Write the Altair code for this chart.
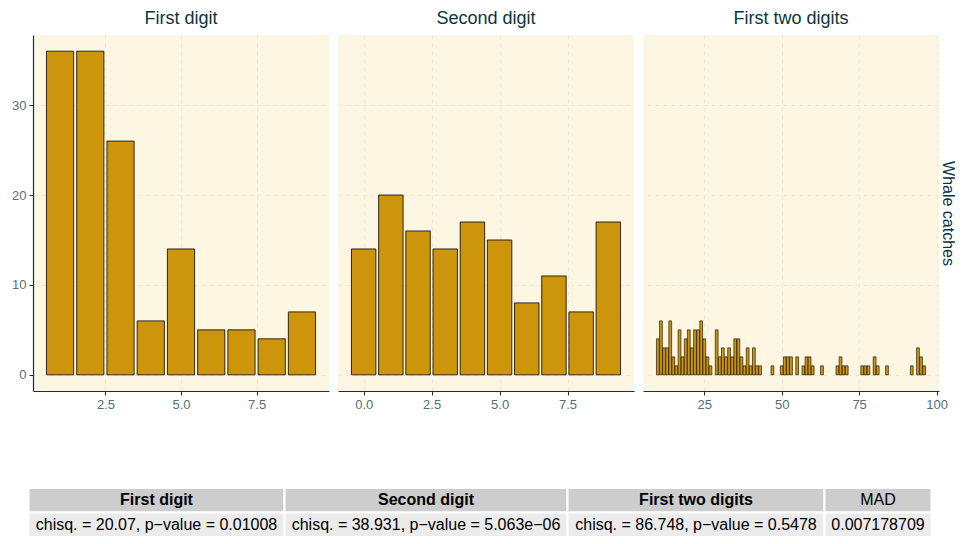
import altair as alt
import pandas as pd

# ---------------- data ----------------
first_digit = [1, 2, 3, 4, 5, 6, 7, 8, 9]
first_counts = [36, 36, 26, 6, 14, 5, 5, 4, 7]

second_digit = [0, 1, 2, 3, 4, 5, 6, 7, 8, 9]
second_counts = [14, 20, 16, 14, 17, 15, 8, 11, 7, 17]

two_digits = [10, 11, 12, 13, 14, 15, 16, 17, 18, 19, 20, 21, 22, 23, 24, 25, 26, 27,
              29, 30, 31, 32, 33, 34, 35, 36, 37, 38, 39, 40, 41, 42, 43,
              47, 50, 51, 52, 53, 55, 57, 58, 59, 60, 63, 68, 69, 70, 71,
              76, 77, 78, 80, 81, 84, 92, 94, 95, 96]
two_counts = [4, 6, 3, 3, 6, 2, 1, 5, 2, 4, 5, 3, 5, 5, 6, 4, 2, 1,
              5, 2, 3, 2, 3, 2, 4, 4, 2, 1, 3, 1, 3, 1, 1,
              1, 1, 2, 2, 2, 2, 1, 2, 2, 1, 1, 1, 2, 1, 1,
              1, 1, 1, 2, 1, 1, 1, 3, 2, 1]

panel_titles = ["First digit", "Second digit", "First two digits"]
y_title = "Whale catches"

table_headers = ["First digit", "Second digit", "First two digits", "MAD"]
table_values = ["chisq. = 20.07, p\u2212value = 0.01008",
                "chisq. = 38.931, p\u2212value = 5.063e\u221206",
                "chisq. = 86.748, p\u2212value = 0.5478",
                "0.007178709"]

# ---------------- style ----------------
FONT = "Liberation Sans"
BAR = "#CD950C"
PANEL_BG = "#FDF6E3"
GRID = "#EEE8D5"
DARK = "#073642"
LABEL = "#586E75"
PW, PH = 296, 356
BAR_HALF = 0.45
LABEL_SIZE = 13
header_weights = ["bold", "bold", "bold", "normal"]

ymax = max(first_counts + second_counts + two_counts)
ydom = [-0.05 * ymax, ymax * 1.05]


def xdomain(vals):
    lo, hi = min(vals) - BAR_HALF, max(vals) + BAR_HALF
    pad = 0.05 * (hi - lo)
    return [lo - pad, hi + pad]


grid_kw = dict(grid=True, gridColor=GRID, gridDash=[4, 4], gridWidth=1)


def panel(digits, counts, title, ticks, fmt, which):
    df = pd.DataFrame({"digit": digits, "count": counts})
    if which == 0:
        yaxis = alt.Axis(values=[0, 10, 20, 30], title=None, domain=True, domainColor=DARK,
                         domainWidth=1.2, tickColor=DARK, tickSize=4, labelColor=LABEL,
                         labelFont=FONT, labelFontSize=LABEL_SIZE, labelPadding=3, **grid_kw)
    elif which == 1:
        yaxis = alt.Axis(values=[0, 10, 20, 30], title=None, domain=False, ticks=False,
                         labels=False, **grid_kw)
    else:
        yaxis = alt.Axis(values=[0, 10, 20, 30], title=y_title, orient="right", domain=False,
                         ticks=False, labels=False, titleAngle=90, titleFont=FONT,
                         titleFontSize=16, titleFontWeight="normal", titleColor=DARK,
                         titlePadding=0, **grid_kw)
    return alt.Chart(df, title=alt.TitleParams(
        title, font=FONT, fontSize=18, fontWeight="normal", color=DARK,
        anchor="middle", offset=7)).transform_calculate(
        x0=f"datum.digit - {BAR_HALF}", x1=f"datum.digit + {BAR_HALF}", zero="0"
    ).mark_bar(fill=BAR, stroke="black", strokeWidth=0.8 if which < 2 else 0.6).encode(
        x=alt.X("x0:Q", scale=alt.Scale(domain=xdomain(digits), nice=False, zero=False),
                axis=alt.Axis(values=ticks, format=fmt, title=None, domainColor=DARK,
                              domainWidth=1.2, tickColor=DARK, tickSize=4, labelColor=LABEL,
                              labelFont=FONT, labelFontSize=LABEL_SIZE, labelPadding=3,
                              **grid_kw)),
        x2="x1:Q",
        y=alt.Y("count:Q", scale=alt.Scale(domain=ydom, nice=False, zero=False), axis=yaxis),
        y2="zero:Q",
    ).properties(width=PW, height=PH)


p1 = panel(first_digit, first_counts, panel_titles[0], [2.5, 5.0, 7.5], ".1f", 0)
p2 = panel(second_digit, second_counts, panel_titles[1], [0.0, 2.5, 5.0, 7.5], ".1f", 1)
p3 = panel(two_digits, two_counts, panel_titles[2], [25, 50, 75, 100], "d", 2)

top = alt.hconcat(p1, p2, p3, spacing=9)

# ---------------- table ----------------
col_widths = [256, 283, 257, 107]
TABLE_SHIFT = 4.5  # table starts slightly left of the first panel
rows = []
start = 0
for i, (h, v) in enumerate(zip(table_headers, table_values)):
    w = col_widths[i]
    rows.append({"x0": start, "x1": start + w, "xm": start + w / 2, "r0": 0, "r1": 1,
                 "rm": 0.5, "text": h, "kind": "header", "weight": header_weights[i]})
    rows.append({"x0": start, "x1": start + w, "xm": start + w / 2, "r0": 1, "r1": 2,
                 "rm": 1.5, "text": v, "kind": "value", "weight": "normal"})
    start += w
tdf = pd.DataFrame(rows)
TW = sum(col_widths)
xs = alt.Scale(domain=[TABLE_SHIFT, TW + TABLE_SHIFT], nice=False, zero=False)
ys = alt.Scale(domain=[0, 2], reverse=True, nice=False, zero=False)

cells = alt.Chart(tdf).mark_rect(stroke="white", strokeWidth=2).encode(
    x=alt.X("x0:Q", scale=xs, axis=None), x2="x1:Q",
    y=alt.Y("r0:Q", scale=ys, axis=None), y2="r1:Q",
    fill=alt.Fill("kind:N", scale=alt.Scale(domain=["header", "value"],
                                            range=["#CDCDCD", "#EBEBEB"]), legend=None),
)
btext = alt.Chart(tdf).transform_filter("datum.weight == 'bold'").mark_text(
    font=FONT, fontSize=16, fontWeight="bold", color="black").encode(
    x=alt.X("xm:Q", scale=xs, axis=None), y=alt.Y("rm:Q", scale=ys, axis=None), text="text:N")
ntext = alt.Chart(tdf).transform_filter("datum.weight == 'normal'").mark_text(
    font=FONT, fontSize=16, color="black").encode(
    x=alt.X("xm:Q", scale=xs, axis=None), y=alt.Y("rm:Q", scale=ys, axis=None), text="text:N")

table = alt.layer(cells, btext, ntext).properties(
    width=TW, height=49, view=alt.ViewBackground(fill="white", stroke=None))

chart = alt.vconcat(top, table, spacing=76).properties(
    padding={"left": 3, "top": 2, "right": 0, "bottom": 0}
).configure_view(fill=PANEL_BG, stroke=None)

chart.save("out.html", embed_options={"renderer": "svg", "actions": False})
